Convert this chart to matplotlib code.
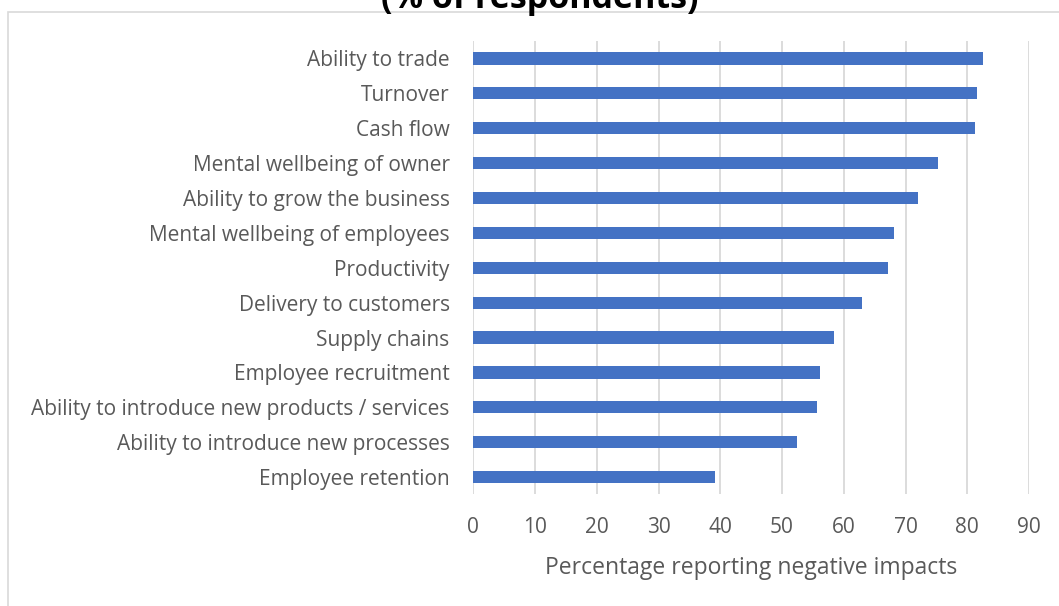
import matplotlib.pyplot as plt
from matplotlib.patches import Rectangle

categories = [
    "Ability to trade",
    "Turnover",
    "Cash flow",
    "Mental wellbeing of owner",
    "Ability to grow the business",
    "Mental wellbeing of employees",
    "Productivity",
    "Delivery to customers",
    "Supply chains",
    "Employee recruitment",
    "Ability to introduce new products / services",
    "Ability to introduce new processes",
    "Employee retention",
]
values = [82.6, 81.5, 81.3, 75.3, 72.1, 68.1, 67.1, 63.0, 58.4, 56.2, 55.7, 52.4, 39.1]
x_ticks = [0, 10, 20, 30, 40, 50, 60, 70, 80, 90]

plt.rcParams["font.family"] = ["Open Sans", "DejaVu Sans"]
text_grey = "#595959"

fig = plt.figure(figsize=(10.59, 6.06), dpi=100)
ax = fig.add_axes([0.4469, 0.184, 0.5248, 0.7483])

pos = list(range(len(categories)))[::-1]
ax.barh(pos, values, height=0.35, color="#4472C4", zorder=3)

ax.set_xlim(0, 90)
ax.set_ylim(-0.5, len(categories) - 0.5)
ax.set_xticks(x_ticks)
ax.set_xticklabels([str(t) for t in x_ticks])
ax.set_yticks(pos)
ax.set_yticklabels(categories)
ax.tick_params(axis="both", length=0, labelsize=15, colors=text_grey)
ax.tick_params(axis="x", pad=16)
ax.tick_params(axis="y", pad=17)
ax.xaxis.grid(True, color="#d9d9d9", linewidth=1.3, zorder=0)
for s in ax.spines.values():
    s.set_visible(False)
ax.set_xlabel("Percentage reporting negative impacts", fontsize=16.5,
              color=text_grey, labelpad=13)

# chart frame
fig.patches.append(Rectangle((8 / 1059, -0.05), 1.2, 1 - 12 / 606 + 0.05,
                             transform=fig.transFigure, fill=False,
                             edgecolor="#d9d9d9", linewidth=1.2))

fig.text(0.51, 1 - 8 / 606, "(% of respondents)", ha="center", va="baseline",
         fontsize=24.5, fontweight="bold", color="black")

fig.savefig("out.png", dpi=100)
